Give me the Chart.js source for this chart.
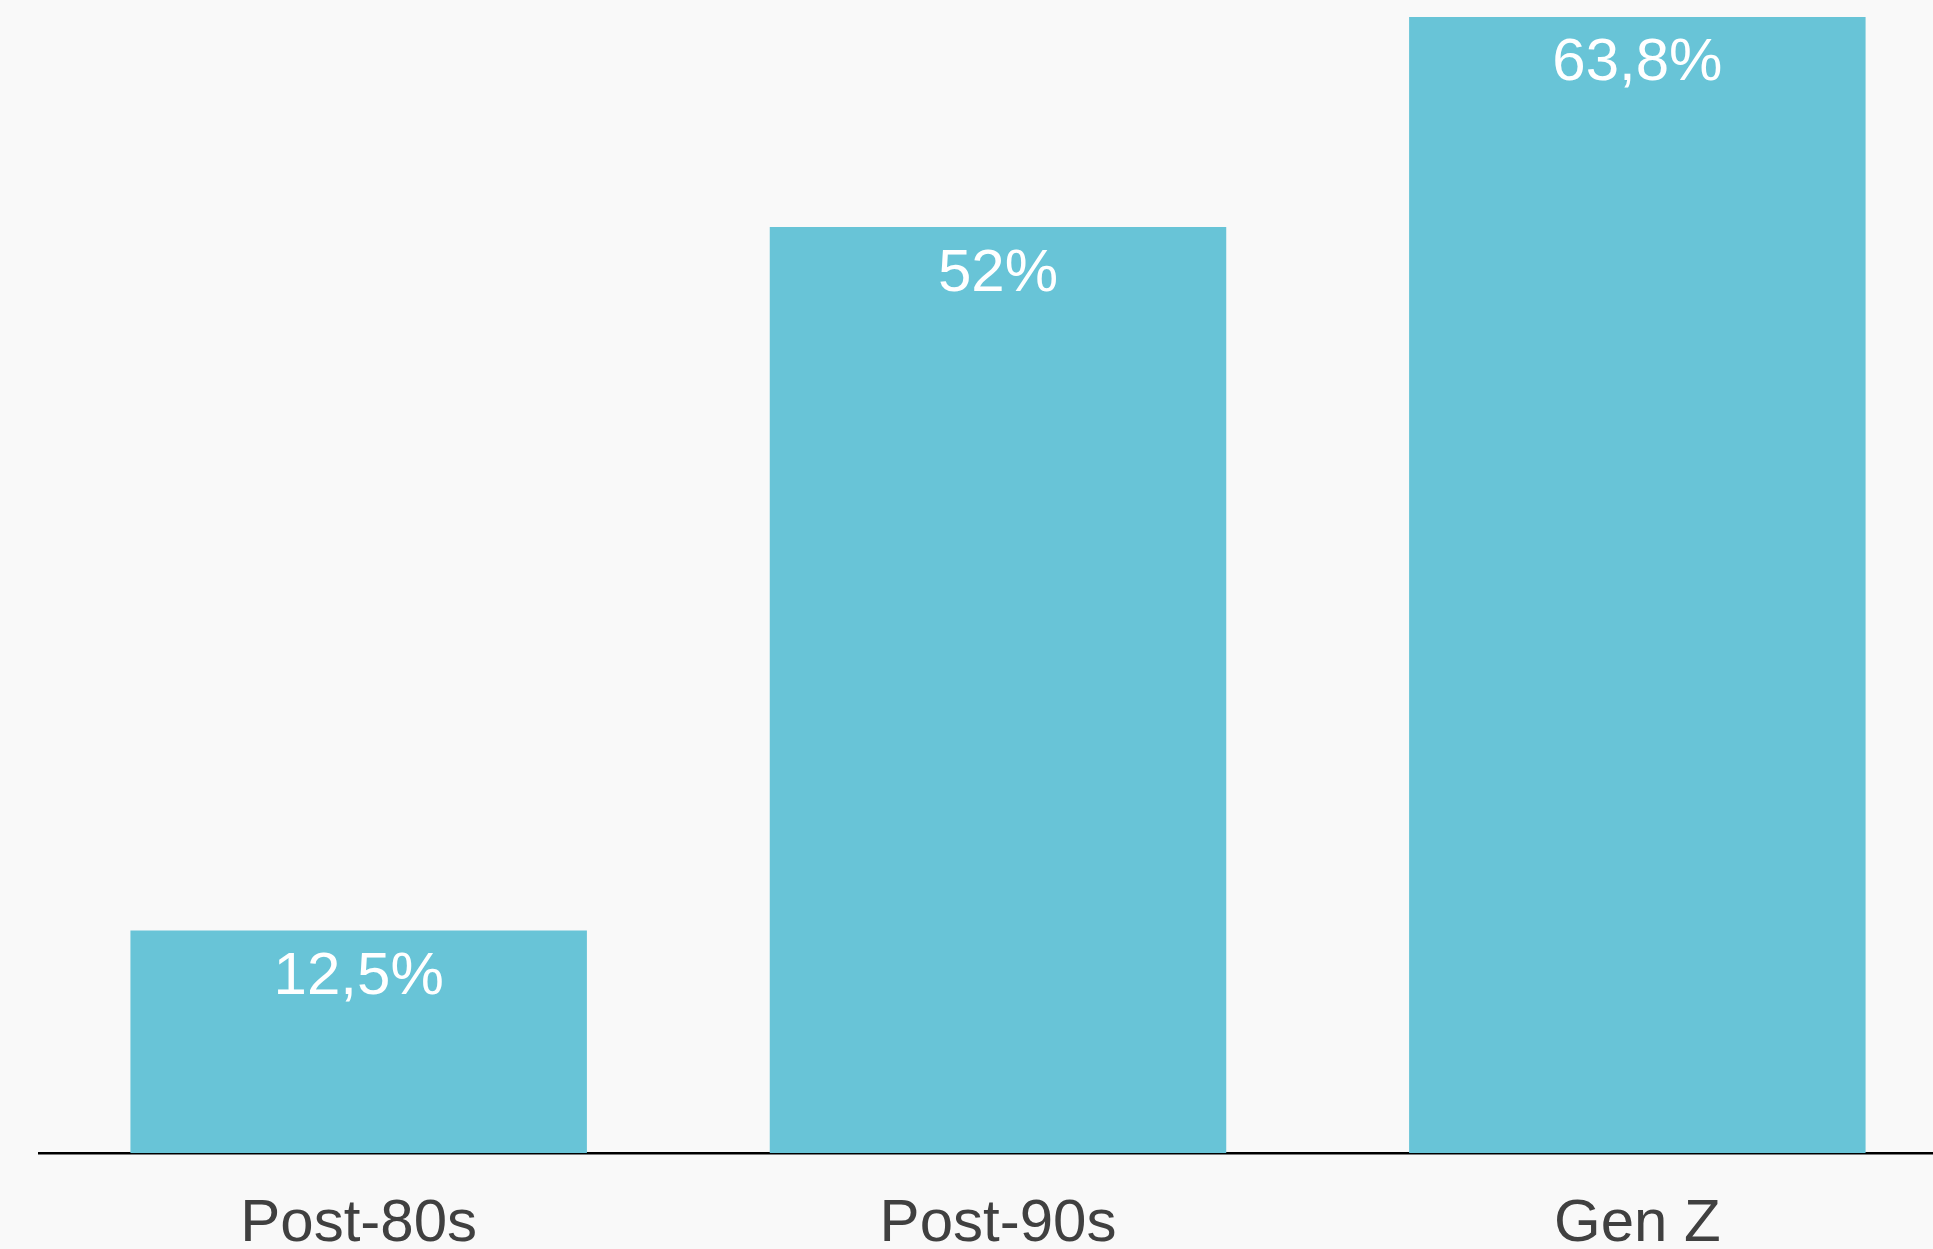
<!DOCTYPE html>
<html>
<head>
<meta charset="utf-8">
<script src="https://cdn.jsdelivr.net/npm/chart.js@4/dist/chart.umd.min.js"></script>
<style>
  html, body { margin: 0; padding: 0; background: #f9f9f9; overflow: hidden; }
  #wrap { width: 1957px; height: 1249px; }
</style>
</head>
<body>
<div id="wrap"><canvas id="gen-chart" width="1957" height="1249"></canvas></div>
<script>
var categories = ["Post-80s", "Post-90s", "Gen Z"];
var shares = [12.5, 52, 63.8];

// white value text near the top of each bar
var barValues = {
  id: 'barValues',
  afterDatasetsDraw: function (chart) {
    var ctx = chart.ctx;
    var meta = chart.getDatasetMeta(0);
    ctx.save();
    ctx.fillStyle = '#ffffff';
    ctx.font = '60px "Liberation Sans", Arial, sans-serif';
    ctx.textAlign = 'center';
    ctx.textBaseline = 'middle';
    meta.data.forEach(function (bar, i) {
      var txt = String(shares[i]).replace('.', ',') + '%';
      ctx.fillText(txt, bar.x, bar.y + 47);
    });
    ctx.restore();
  }
};

new Chart(document.getElementById("gen-chart"), {
  type: 'bar',
  data: {
    labels: categories,
    datasets: [{
      data: shares,
      backgroundColor: "#68c4d7",
      categoryPercentage: 1,
      barPercentage: 0.714
    }]
  },
  options: {
    responsive: false,
    animation: false,
    layout: { padding: { left: 39, right: 0, top: 0, bottom: 0 } },
    plugins: {
      legend: { display: false },
      tooltip: { enabled: false }
    },
    scales: {
      x: {
        grid: { display: false, drawTicks: false },
        border: { display: true, color: '#000000', width: 2.5 },
        ticks: {
          color: '#404040',
          padding: 35,
          font: { family: '"Liberation Sans", Arial, sans-serif', size: 60 }
        },
        afterFit: function (scale) { scale.height = 96; }
      },
      y: {
        display: false,
        min: 0,
        max: 64.75
      }
    }
  },
  plugins: [barValues]
});
</script>
</body>
</html>
